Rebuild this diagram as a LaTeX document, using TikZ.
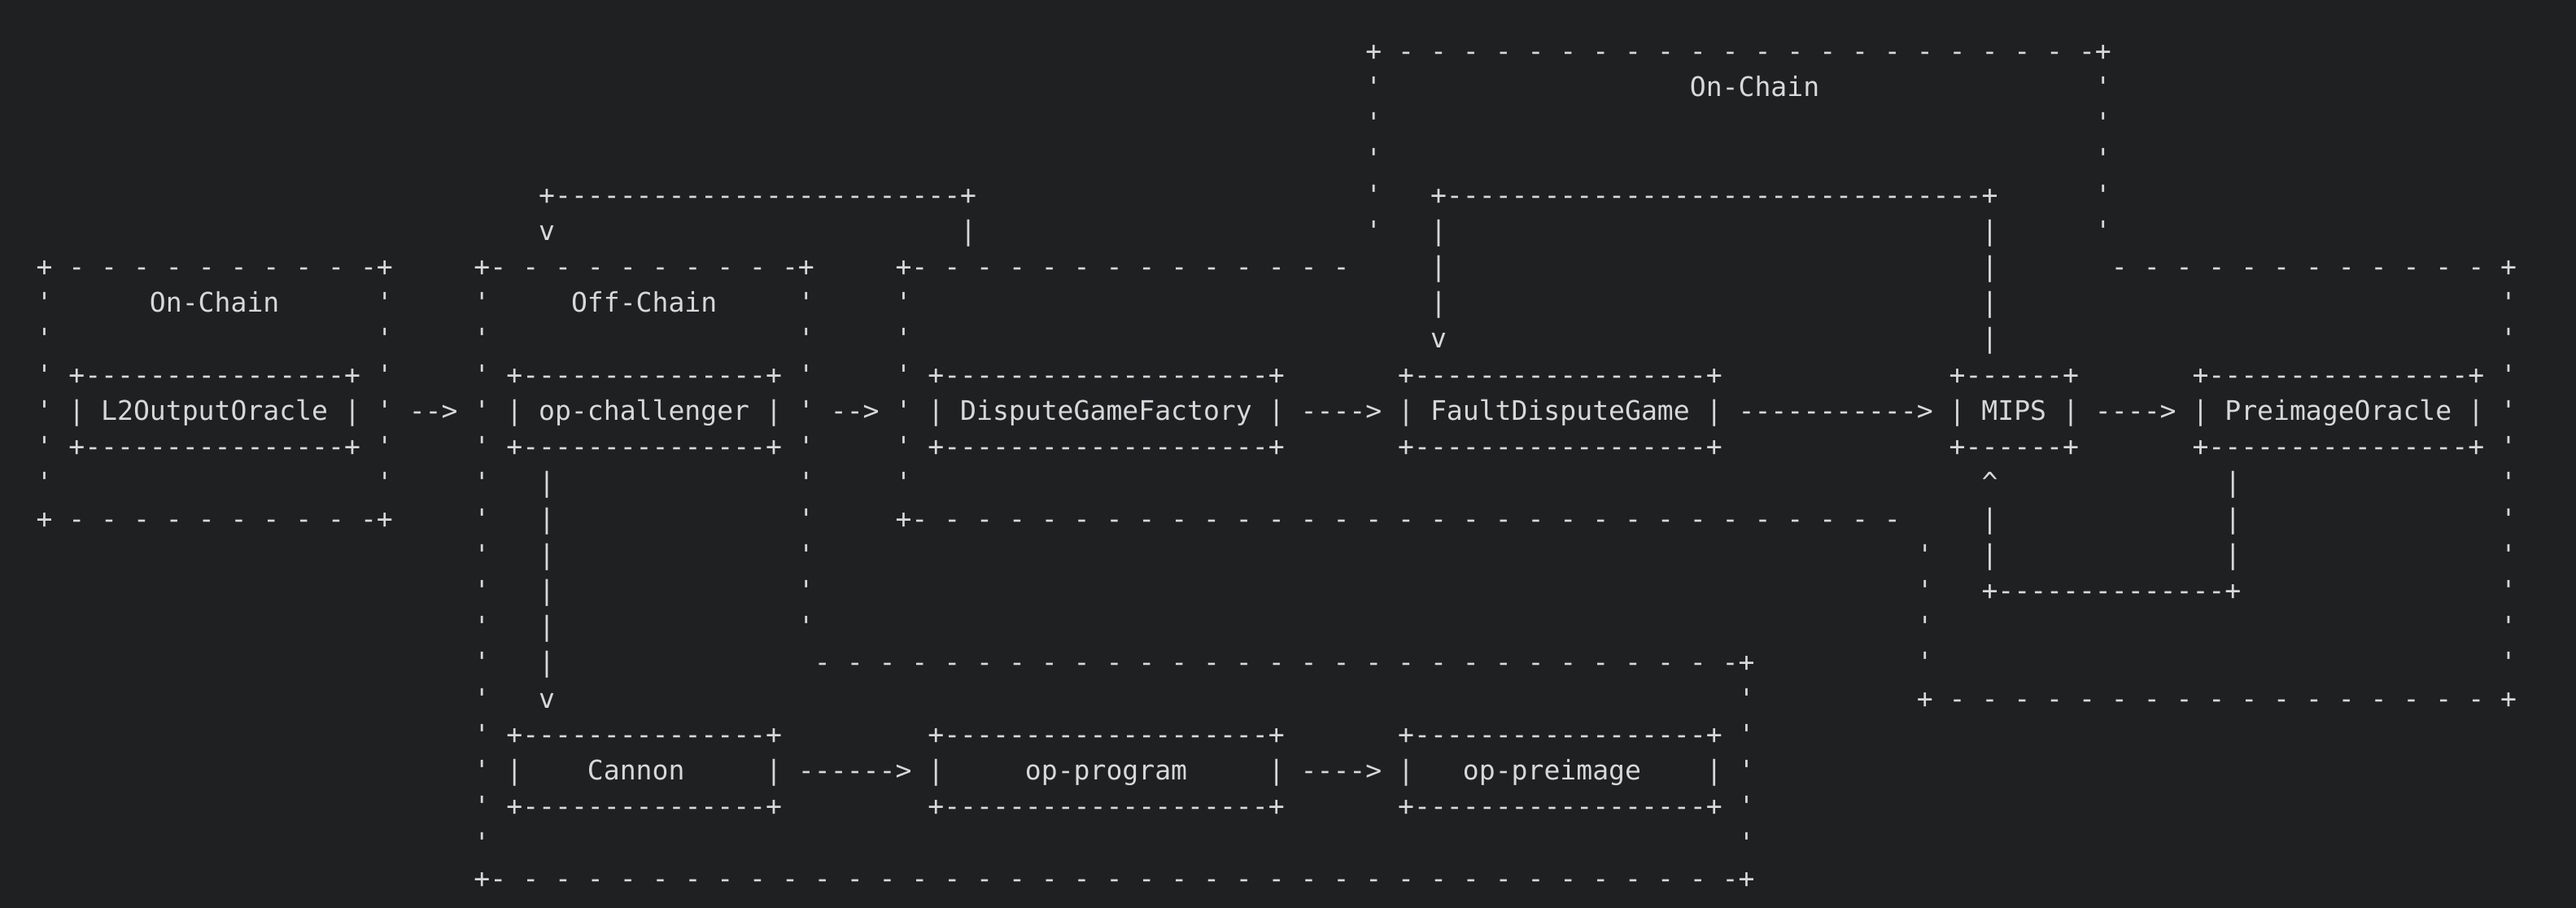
\documentclass[tikz,border=0pt]{standalone}
\usepackage{fontspec}
\newfontfamily\asciifont{DejaVu Sans Mono}[Ligatures=TeXOff]
\definecolor{bg}{HTML}{1E2022}
\definecolor{fg}{HTML}{D8D8D8}
% dashed rule: '-' on every even column from #2 to #3 in row #1
\newcommand\hd[3]{\foreach \k in {#2,...,#3}{\ifodd\k\relax\else\node[ch] (h#1-\k) at (\k,#1) {-};\fi}}
% dashed side: apostrophes in column #1 from row #2 to #3
\newcommand\vd[3]{\foreach \k in {#2,...,#3}{\node[ch] (v#1-\k) at (#1,\k) {'};}}
% solid rule +----+ in row #1 from column #2 to #3
\newcommand\solidline[3]{\foreach \k in {#2,...,#3}{\node[ch] (s#1-\k) at (\k,#1) {\ifnum\k=#2\relax+\else\ifnum\k=#3\relax+\else-\fi\fi};}}
\begin{document}
\begin{tikzpicture}[x=4.98125pt,y=-11.0575pt,
  ch/.style={anchor=base west,inner sep=0pt,outer sep=0pt,text=fg,
    font=\asciifont\fontsize{8.274pt}{9pt}\selectfont}]
\useasboundingbox (-2.2334,-1.6753) rectangle (156.663,23.556);
\fill[bg] (-2.2334,-1.6753) rectangle (156.663,23.556);

% ---- upper On-Chain frame ----
\node[ch] (tl) at (82,0) {+}; \hd{0}{84}{126}; \node[ch] (tr) at (127,0) {+};
\vd{82}{1}{5} \vd{127}{1}{5}
\node[ch] (onchaintop) at (102,1) {On-Chain};

% ---- feedback lines ----
\solidline{4}{31}{57}
\node[ch] (vch) at (31,5) {v};
\node[ch] (p57) at (57,5) {|};
\solidline{4}{86}{120}
\foreach \k in {5,6,7} \node[ch] (p86-\k) at (86,\k) {|};
\node[ch] (vfdg) at (86,8) {v};
\foreach \k in {5,...,8} \node[ch] (p120-\k) at (120,\k) {|};

% ---- box 1: On-Chain ----
\node[ch] (b1tl) at (0,6) {+}; \hd{6}{2}{20}; \node[ch] (b1tr) at (21,6) {+};
\vd{0}{7}{12} \vd{21}{7}{12}
\node[ch] (b1bl) at (0,13) {+}; \hd{13}{2}{20}; \node[ch] (b1br) at (21,13) {+};
\node[ch] (onchain) at (7,7) {On-Chain};

% ---- box 2: Off-Chain ----
\node[ch] (b2tl) at (27,6) {+}; \hd{6}{28}{46}; \node[ch] (b2tr) at (47,6) {+};
\vd{27}{7}{22} \vd{47}{7}{16}
\hd{17}{48}{104}; \node[ch] (b2mr) at (105,17) {+};
\vd{105}{18}{22}
\node[ch] (b2bl) at (27,23) {+}; \hd{23}{28}{104}; \node[ch] (b2br) at (105,23) {+};
\node[ch] (offchain) at (33,7) {Off-Chain};

% ---- box 3 ----
\node[ch] (b3tl) at (53,6) {+}; \hd{6}{54}{80};
\vd{53}{7}{12}
\node[ch] (b3bl) at (53,13) {+}; \hd{13}{54}{114};

% ---- right box ----
\hd{6}{128}{150}; \node[ch] (b4tr) at (152,6) {+};
\vd{152}{7}{17}
\vd{116}{14}{17}
\node[ch] (b4bl) at (116,18) {+}; \hd{18}{118}{150}; \node[ch] (b4br) at (152,18) {+};

% ---- upper component boxes ----
\solidline{9}{2}{19} \solidline{11}{2}{19}
\solidline{9}{29}{45} \solidline{11}{29}{45}
\solidline{9}{55}{76} \solidline{11}{55}{76}
\solidline{9}{84}{103} \solidline{11}{84}{103}
\solidline{9}{118}{125} \solidline{11}{118}{125}
\solidline{9}{133}{150} \solidline{11}{133}{150}
\node[ch] (l2oo) at (2,10) {| L2OutputOracle |};
\node[ch] (a1) at (23,10) {-->};
\node[ch] (opch) at (29,10) {| op-challenger |};
\node[ch] (a2) at (49,10) {-->};
\node[ch] (dgf) at (55,10) {| DisputeGameFactory |};
\node[ch] (a3) at (78,10) {---->};
\node[ch] (fdg) at (84,10) {| FaultDisputeGame |};
\node[ch] (a4) at (105,10) {----------->};
\node[ch] (mips) at (118,10) {| MIPS |};
\node[ch] (a5) at (127,10) {---->};
\node[ch] (pio) at (133,10) {| PreimageOracle |};

% ---- connectors below ----
\foreach \k in {12,...,17} \node[ch] (p31-\k) at (31,\k) {|};
\node[ch] (vcan) at (31,18) {v};
\node[ch] (upm) at (120,12) {\textasciicircum};
\foreach \k in {13,14} \node[ch] (p120-\k) at (120,\k) {|};
\foreach \k in {12,13,14} \node[ch] (p135-\k) at (135,\k) {|};
\solidline{15}{120}{135}

% ---- lower component boxes ----
\solidline{19}{29}{45} \solidline{21}{29}{45}
\solidline{19}{55}{76} \solidline{21}{55}{76}
\solidline{19}{84}{103} \solidline{21}{84}{103}
\node[ch] (canl) at (29,20) {|};
\node[ch] (cannon) at (34,20) {Cannon};
\node[ch] (canr) at (45,20) {|};
\node[ch] (a6) at (47,20) {------>};
\node[ch] (oppl) at (55,20) {|};
\node[ch] (opprog) at (61,20) {op-program};
\node[ch] (oppr) at (76,20) {|};
\node[ch] (a7) at (78,20) {---->};
\node[ch] (opil) at (84,20) {|};
\node[ch] (oppre) at (88,20) {op-preimage};
\node[ch] (opir) at (103,20) {|};
\end{tikzpicture}
\end{document}
